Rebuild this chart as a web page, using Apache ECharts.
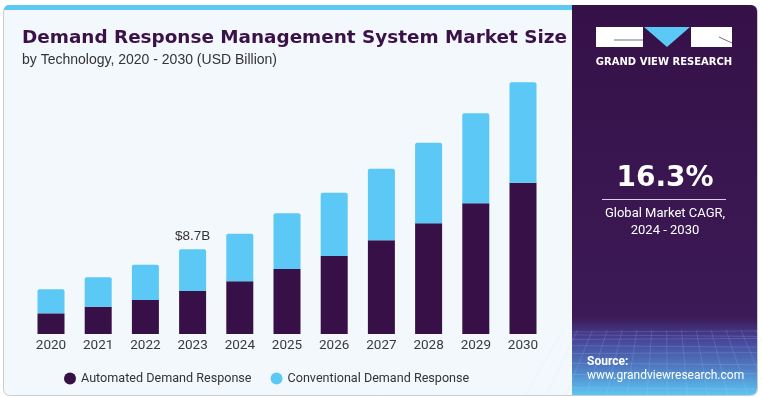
<!DOCTYPE html>
<html>
<head>
<meta charset="utf-8">
<script src="https://cdn.jsdelivr.net/npm/echarts@6/dist/echarts.min.js"></script>
<style>
  html, body { margin: 0; padding: 0; background: #ffffff; }
  #chart { width: 762px; height: 397px; }
</style>
</head>
<body>
<div id="chart"></div>
<script>
const years = ['2020', '2021', '2022', '2023', '2024', '2025', '2026', '2027', '2028', '2029', '2030'];
const automated = [2.12, 2.80, 3.49, 4.42, 5.41, 6.67, 8.01, 9.62, 11.37, 13.42, 15.53];
const conventional = [2.47, 3.02, 3.63, 4.28, 4.89, 5.72, 6.50, 7.35, 8.27, 9.24, 10.31];
const seriesNames = ['Automated Demand Response', 'Conventional Demand Response'];
const callout = { index: 3, text: '$8.7B' };

const purple = '#371047';
const blue = '#5bc8f5';

const chart = echarts.init(document.getElementById('chart'), null, { renderer: 'canvas' });

const conventionalData = conventional.map((v, i) => {
  if (i !== callout.index) return v;
  return {
    value: v,
    label: {
      show: true,
      position: 'top',
      distance: 6,
      formatter: callout.text,
      color: '#333333',
      fontSize: 13.5,
      fontFamily: 'Liberation Sans',
    },
  };
});

// faint mesh on the lower part of the side panel
const mesh = [];
for (let i = 0; i < 9; i += 1) {
  const y = 332 + i * i * 0.85 + i * 2;
  mesh.push({
    type: 'line',
    z: -7,
    shape: { x1: 572, y1: y, x2: 757, y2: y + (i % 2 ? 1.5 : -1) },
    style: { stroke: 'rgba(200,210,255,0.22)', lineWidth: 0.8 },
  });
}
for (let i = 0; i < 15; i += 1) {
  const x = 572 + i * 13.5;
  mesh.push({
    type: 'line',
    z: -7,
    shape: { x1: x + (x - 665) * 0.1, y1: 330, x2: x + (x - 665) * 0.5, y2: 395 },
    style: { stroke: 'rgba(200,210,255,0.2)', lineWidth: 0.8 },
  });
}

const option = {
  animation: false,
  backgroundColor: '#ffffff',
  graphic: [
    // card
    {
      type: 'rect',
      z: -10,
      shape: { x: 3.5, y: 5.5, width: 754, height: 390, r: 6 },
      style: { fill: '#f3f8fc', stroke: '#c9cdd2', lineWidth: 1 },
    },
    {
      type: 'rect',
      z: -9,
      shape: { x: 4, y: 5, width: 570, height: 5, r: [5, 0, 0, 0] },
      style: { fill: blue },
    },
    // side panel
    {
      type: 'rect',
      z: -8,
      shape: { x: 572, y: 5, width: 185, height: 390, r: [0, 6, 6, 0] },
      style: {
        fill: new echarts.graphic.LinearGradient(0, 0, 0, 1, [
          { offset: 0, color: '#361149' },
          { offset: 0.8, color: '#3c1a55' },
          { offset: 0.86, color: '#46469a' },
          { offset: 0.93, color: '#4f7cc2' },
          { offset: 1, color: '#5cc6f2' },
        ]),
      },
    },
    ...mesh,
    // logo
    { type: 'rect', shape: { x: 596, y: 27, width: 47, height: 20 }, style: { fill: '#ffffff' } },
    { type: 'polygon', shape: { points: [[644, 27], [690, 27], [667, 47]] }, style: { fill: blue } },
    { type: 'rect', shape: { x: 691, y: 27, width: 41, height: 20 }, style: { fill: '#ffffff' } },
    { type: 'line', shape: { x1: 614, y1: 40, x2: 643, y2: 40 }, style: { stroke: '#7a6a8a', lineWidth: 1 } },
    { type: 'line', shape: { x1: 719, y1: 37, x2: 732, y2: 43 }, style: { stroke: '#7a6a8a', lineWidth: 1 } },
    {
      type: 'text',
      style: {
        x: 664, y: 62, text: 'GRAND VIEW RESEARCH', align: 'center', verticalAlign: 'middle',
        fill: '#ffffff', font: 'bold 10px "DejaVu Sans"',
      },
    },
    // CAGR
    {
      type: 'text',
      style: {
        x: 665, y: 179, text: '16.3%', align: 'center', verticalAlign: 'middle',
        fill: '#ffffff', font: 'bold 28px "DejaVu Sans"',
      },
    },
    { type: 'line', shape: { x1: 602, y1: 199.5, x2: 726, y2: 199.5 }, style: { stroke: '#d8d0e0', lineWidth: 1 } },
    {
      type: 'text',
      style: {
        x: 665, y: 214, text: 'Global Market CAGR,', align: 'center', verticalAlign: 'middle',
        fill: '#ffffff', font: '13px Roboto',
      },
    },
    {
      type: 'text',
      style: {
        x: 665, y: 231, text: '2024 - 2030', align: 'center', verticalAlign: 'middle',
        fill: '#ffffff', font: '13px Roboto',
      },
    },
    // source
    {
      type: 'text',
      style: { x: 587, y: 362, text: 'Source:', verticalAlign: 'middle', fill: '#ffffff', font: 'bold 12px Roboto' },
    },
    {
      type: 'text',
      style: {
        x: 587, y: 376, text: 'www.grandviewresearch.com', verticalAlign: 'middle',
        fill: '#ffffff', font: '12px Roboto',
      },
    },
    // titles
    {
      type: 'text',
      style: {
        x: 22, y: 38, text: 'Demand Response Management System Market Size', verticalAlign: 'middle',
        fill: '#3a1248', font: 'bold 18.4px "DejaVu Sans"',
      },
    },
    {
      type: 'text',
      style: {
        x: 22, y: 60, text: 'by Technology, 2020 - 2030 (USD Billion)', verticalAlign: 'middle',
        fill: '#333333', font: '14px "Liberation Sans"',
      },
    },
  ],
  grid: {
    left: 27.4,
    right: 215.4,
    top: 71,
    bottom: 63,
  },
  legend: {
    left: 59,
    top: 367,
    icon: 'circle',
    itemWidth: 12,
    itemHeight: 12,
    itemGap: 19,
    textStyle: { color: '#333333', fontSize: 12.6, fontFamily: 'Roboto' },
    data: seriesNames,
  },
  xAxis: {
    type: 'category',
    data: years,
    axisLine: { show: false },
    axisTick: { show: false },
    axisLabel: { color: '#3a3a3a', fontSize: 13.5, fontFamily: 'Roboto', margin: 5 },
  },
  yAxis: {
    type: 'value',
    min: 0,
    max: 27,
    show: false,
    splitLine: { show: false },
  },
  series: [
    {
      name: seriesNames[0],
      type: 'bar',
      stack: 'total',
      barWidth: 27,
      itemStyle: { color: purple },
      data: automated,
    },
    {
      name: seriesNames[1],
      type: 'bar',
      stack: 'total',
      barWidth: 27,
      itemStyle: { color: blue, borderRadius: [2, 2, 0, 0] },
      data: conventionalData,
    },
  ],
};

chart.setOption(option);
</script>
</body>
</html>
